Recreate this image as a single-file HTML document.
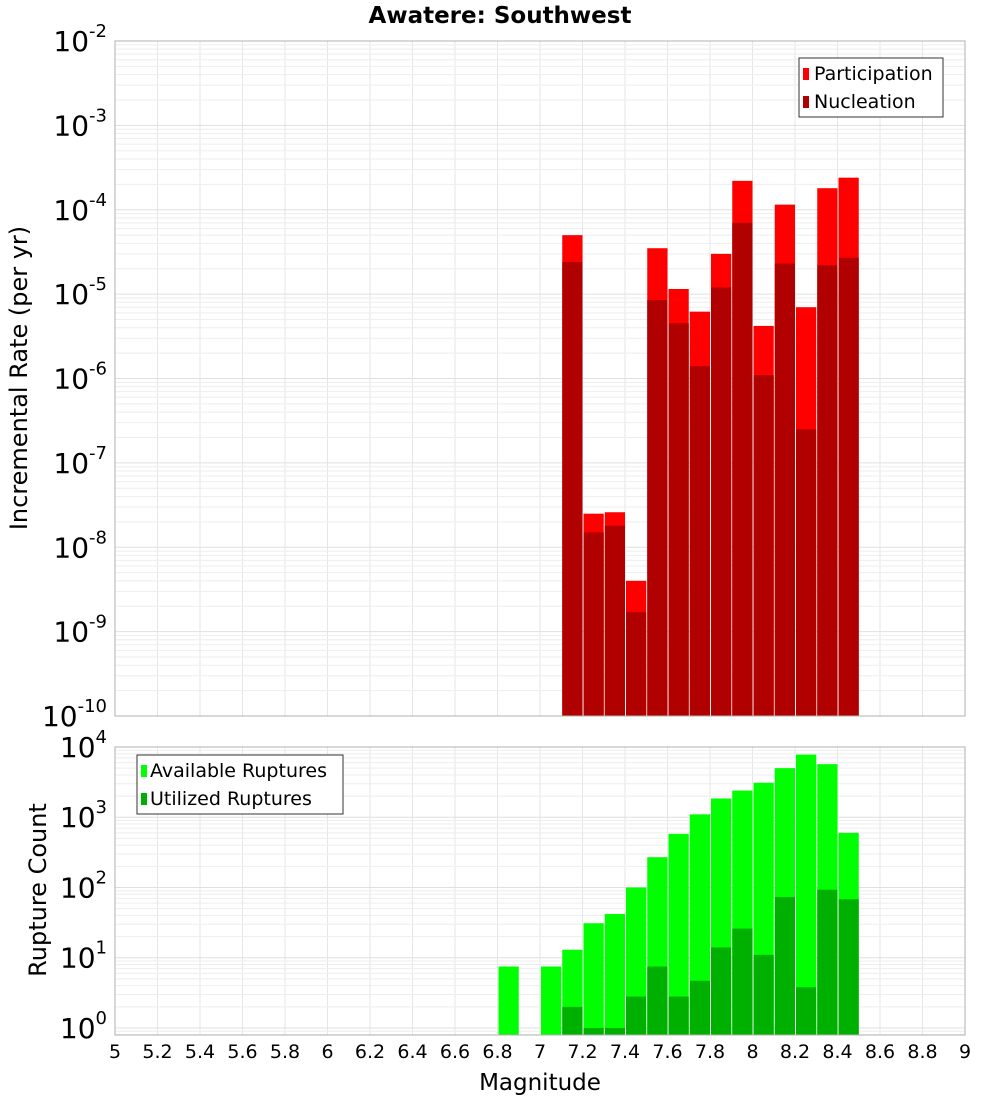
<!DOCTYPE html>
<html><head><meta charset="utf-8">
<style>
body{margin:0;background:#fff;}
svg text{font-family:"DejaVu Sans","Liberation Sans",sans-serif;}
</style></head>
<body>
<svg id="chart" width="1000" height="1100" xmlns="http://www.w3.org/2000/svg">
<text x="500" y="23" text-anchor="middle" font-size="23" font-weight="bold">Awatere: Southwest</text>
<g id="top-grid"></g>
<g id="top-bars"></g>
<g id="bot-grid"></g>
<g id="bot-bars"></g>
<g id="axes"></g>
<text transform="translate(27,378) rotate(-90)" text-anchor="middle" font-size="24">Incremental Rate (per yr)</text>
<text transform="translate(46,890) rotate(-90)" text-anchor="middle" font-size="24">Rupture Count</text>
<text x="540" y="1090" text-anchor="middle" font-size="23">Magnitude</text>
<g>
<rect x="799" y="58" width="144" height="59" fill="#fff" stroke="#333" stroke-width="1"/>
<rect x="803" y="68" width="6" height="12" fill="#ff0000"/>
<text x="814" y="80" font-size="19">Participation</text>
<rect x="803" y="96" width="6" height="12" fill="#b00000"/>
<text x="814" y="108" font-size="19">Nucleation</text>
</g>
<g>
<rect x="137" y="755" width="206" height="59" fill="#fff" stroke="#333" stroke-width="1"/>
<rect x="141" y="765" width="6" height="12" fill="#00ff00"/>
<text x="150" y="777" font-size="19">Available Ruptures</text>
<rect x="141" y="793" width="6" height="12" fill="#00b000"/>
<text x="150" y="805" font-size="19">Utilized Ruptures</text>
</g>
</svg>
<script>
const topBins=[7.1,7.2,7.3,7.4,7.5,7.6,7.7,7.8,7.9,8.0,8.1,8.2,8.3,8.4];
const participation=[5e-5,2.5e-8,2.6e-8,4e-9,3.5e-5,1.15e-5,6.2e-6,3e-5,2.2e-4,4.2e-6,1.15e-4,7e-6,1.8e-4,2.4e-4];
const nucleation=[2.4e-5,1.5e-8,1.8e-8,1.7e-9,8.5e-6,4.5e-6,1.4e-6,1.2e-5,7e-5,1.1e-6,2.3e-5,2.5e-7,2.2e-5,2.7e-5];
const botBins=[6.8,7.0,7.1,7.2,7.3,7.4,7.5,7.6,7.7,7.8,7.9,8.0,8.1,8.2,8.3,8.4];
const available=[7.5,7.5,13,31,42,100,270,580,1100,1850,2400,3100,5000,7800,5700,600];
const utilized=[0,0,2,1,1,2.8,7.5,2.8,4.7,14,26,11,73,3.8,93,68];
const xTicks=[5,5.2,5.4,5.6,5.8,6,6.2,6.4,6.6,6.8,7,7.2,7.4,7.6,7.8,8,8.2,8.4,8.6,8.8,9];
const topExps=[-2,-3,-4,-5,-6,-7,-8,-9,-10];
const botExps=[4,3,2,1,0];

const NS='http://www.w3.org/2000/svg';
const L=115,R=965,T1=41,B1=716,T2=747,B2=1035;
const X=m=>L+(m-5)*(R-L)/4;
const Y1=v=>T1+(-2-Math.log10(v))*(B1-T1)/8;
const botMin=-0.1,botMax=4.0;
const Y2=v=>B2-(Math.log10(v)-botMin)*(B2-T2)/(botMax-botMin);
function mk(parent,tag,attrs){const e=document.createElementNS(NS,tag);for(const k in attrs)e.setAttribute(k,attrs[k]);document.getElementById(parent).appendChild(e);return e;}

function grid(gid,top,bot,yf,lo,hi){
  for(let m=5;m<=9.001;m+=0.2){const x=X(m);const e=mk(gid,'line',{x1:x,x2:x,y1:top,y2:bot,stroke:'#e6e6e6','stroke-width':1});
    }
  for(let d=lo;d<hi;d++)for(let k=1;k<10;k++){const y=yf(k*Math.pow(10,d));if(y<top-0.5||y>bot+0.5)continue;
    const e=mk(gid,'line',{x1:L,x2:R,y1:y,y2:y,stroke:k==1?'#e0e0e0':'#eeeeee','stroke-width':1});
    }
}
grid('top-grid',T1,B1,Y1,-10,-1);
grid('bot-grid',T2,B2,Y2,-1,5);

function bars(gid,bins,vals,yf,base,color,name){
  bins.forEach((b,i)=>{const v=vals[i];if(!(v>0))return;const x0=X(b)+1,x1=X(b+0.1);const y=Math.max(yf(v),0);
    const e=mk(gid,'rect',{x:x0,y:y,width:x1-x0,height:Math.max(base-y,0),fill:color});
    });
}
bars('top-bars',topBins,participation,Y1,B1,'#ff0000','bar-participation');
bars('top-bars',topBins,nucleation,Y1,B1,'#b00000','bar-nucleation');
bars('bot-bars',botBins,available,Y2,B2,'#00ff00','bar-available');
bars('bot-bars',botBins,utilized,Y2,B2,'#00b000','bar-utilized');

[[T1,B1],[T2,B2]].forEach(([t,b])=>{const e=mk('axes','rect',{x:L,y:t,width:R-L,height:b-t,fill:'none',stroke:'#b0b0b0','stroke-width':1});
  });

function powLabel(y,exp,name){
  const t=mk('axes','text',{x:107,y:y+10,'text-anchor':'end','font-size':28});
  
  const a=document.createElementNS(NS,'tspan');a.textContent='10';t.appendChild(a);
  const s=document.createElementNS(NS,'tspan');s.setAttribute('dy','-14');s.setAttribute('font-size','18');s.textContent=String(exp);t.appendChild(s);
}
topExps.forEach(e=>powLabel(Y1(Math.pow(10,e)),e,'y-tick-top'));
botExps.forEach(e=>powLabel(Y2(Math.pow(10,e)),e,'y-tick-bottom'));
xTicks.forEach(m=>{const t=mk('axes','text',{x:X(m),y:1058,'text-anchor':'middle','font-size':19});
  t.textContent=String(m);});
</script>
</body></html>
